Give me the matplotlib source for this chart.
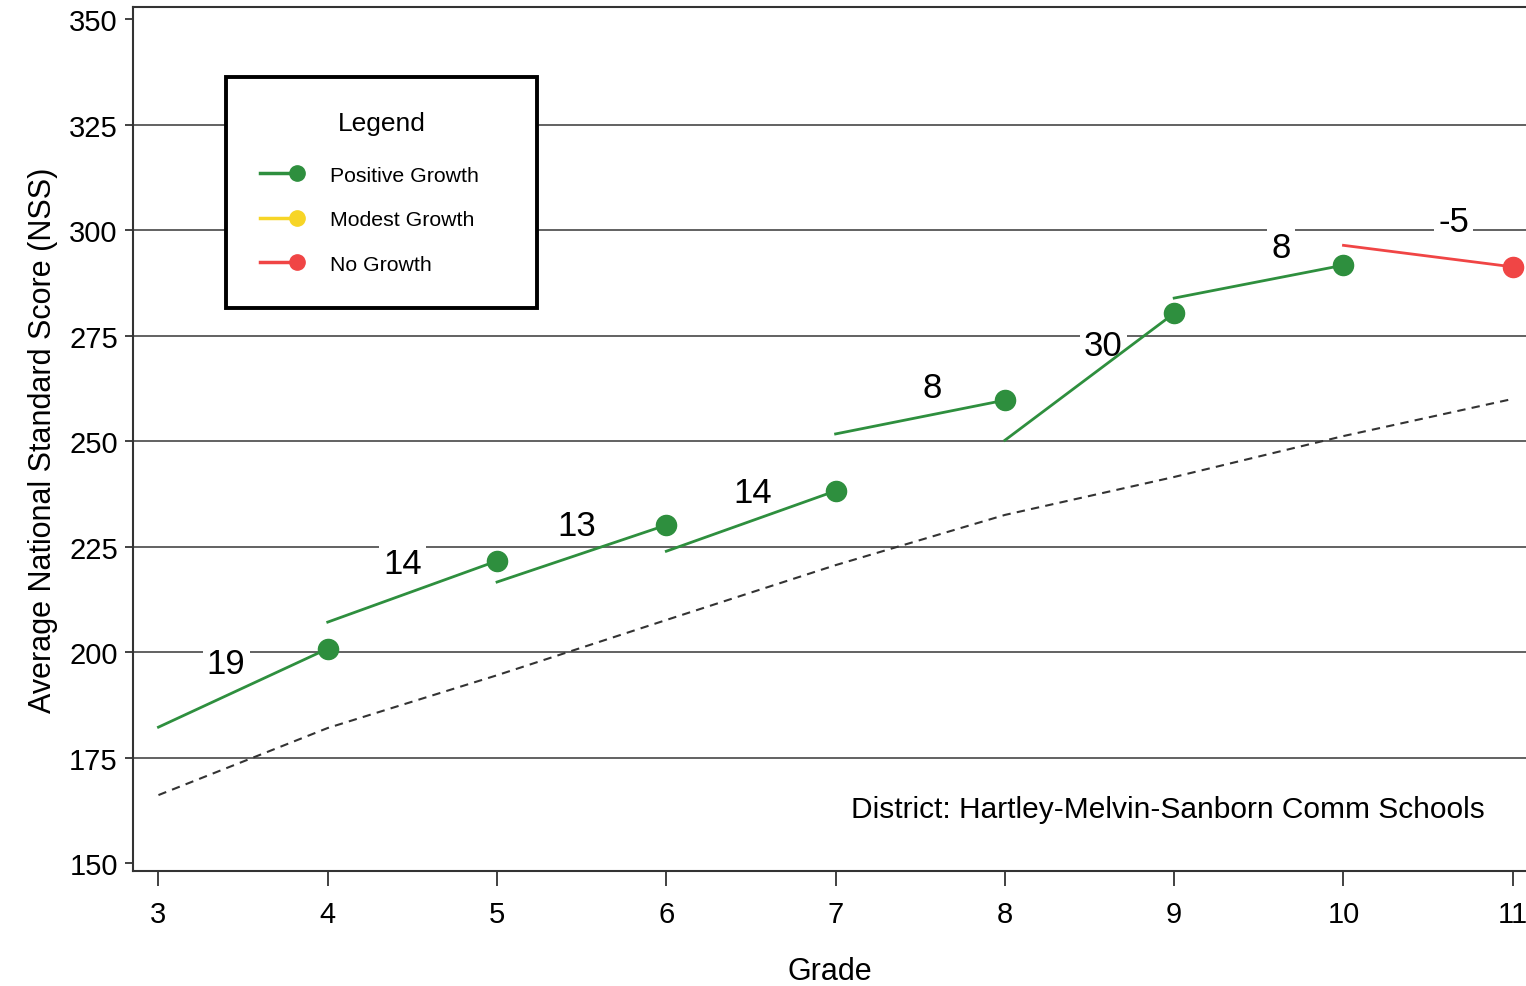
import numpy as np
import matplotlib.pyplot as plt
from matplotlib.lines import Line2D
from matplotlib.legend_handler import HandlerBase

plt.rcParams['font.family'] = ['Liberation Sans', 'DejaVu Sans']

# grade-to-grade growth segments: start grade, start score, end score
seg_grade = [3, 4, 5, 6, 7, 8, 9, 10]
seg_start = [182.2, 207.1, 216.6, 223.9, 251.7, 250.2, 283.9, 296.4]
seg_end = [200.8, 221.6, 230.1, 238.2, 259.7, 280.3, 291.7, 291.3]
growth = [19, 14, 13, 14, 8, 30, 8, -5]
label_x = [3.40, 4.44, 5.47, 6.51, 7.57, 8.58, 9.63, 10.65]
label_y = [197.4, 220.9, 230.1, 237.7, 262.8, 272.7, 296.0, 302.1]

# national norm (dashed)
norm_grade = [3, 4, 5, 6, 7, 8, 9, 10, 11]
norm_score = [166.1, 182.0, 194.5, 207.6, 220.6, 232.5, 241.5, 251.2, 260.0]

grades = [3, 4, 5, 6, 7, 8, 9, 10, 11]
yticks = [150, 175, 200, 225, 250, 275, 300, 325, 350]
legend_labels = ['Positive Growth', 'Modest Growth', 'No Growth']

GREEN = '#2e8f3e'
YELLOW = '#f7d526'
RED = '#f04545'


class EndDotHandler(HandlerBase):
    # line with the dot sitting at its right end, like the original key
    def create_artists(self, legend, orig_handle, xdescent, ydescent,
                       width, height, fontsize, trans):
        y = height / 2 - ydescent
        xe = -xdescent + width * 0.82
        c = orig_handle.get_color()
        line = Line2D([-xdescent, xe], [y, y], color=c, lw=2.5)
        dot = Line2D([xe], [y], color=c, marker='o', ms=11, lw=0)
        line.set_transform(trans)
        dot.set_transform(trans)
        return [line, dot]


fig = plt.figure(figsize=(15.26, 9.87), dpi=100)
ax = fig.add_axes([0.0872, 0.1165, 0.913, 0.875])

# gridlines
for yv in yticks[1:-1]:
    ax.axhline(yv, color='#555555', lw=1.3, zorder=1)

ax.plot(norm_grade, norm_score, color='#333333', lw=1.5, dashes=(4, 3), zorder=2)

for g, s, e, gr in zip(seg_grade, seg_start, seg_end, growth):
    c = GREEN if gr > 0 else RED
    ax.plot([g, g + 1], [s, e], color=c, lw=2.0, zorder=3)
    ax.plot(g + 1, e, 'o', color=c, ms=14.5, zorder=4)

for x, y, gr in zip(label_x, label_y, growth):
    ax.text(x, y, str(gr), fontsize=25, ha='center', va='center', zorder=2.5,
            bbox=dict(facecolor='white', edgecolor='none', pad=3))

ax.text(7.09, 162.8, 'District: Hartley-Melvin-Sanborn Comm Schools',
        fontsize=21.5, ha='left', va='center')

ax.set_xlim(2.85, 11.08)
ax.set_ylim(148.1, 352.8)
ax.set_xticks(grades)
ax.set_yticks(yticks)
ax.tick_params(axis='x', labelsize=21, length=11, width=1.3, color='#333333', pad=10)
ax.tick_params(axis='y', labelsize=21, length=6, width=1.3, color='#333333', pad=5)
ax.set_xlabel('Grade', fontsize=22, labelpad=20)
ax.set_ylabel('Average National Standard Score (NSS)', fontsize=22, labelpad=8)
ax.spines['right'].set_visible(False)
for sp in ['left', 'bottom', 'top']:
    ax.spines[sp].set_linewidth(1.5)
    ax.spines[sp].set_color('#333333')

handles = [Line2D([], [], color=c) for c in (GREEN, YELLOW, RED)]
leg = ax.legend(handles, legend_labels,
                handler_map={Line2D: EndDotHandler()},
                title='Legend', title_fontsize=19, fontsize=15.3,
                loc='upper left', bbox_to_anchor=(0.0668, 0.5, 0.2233, 0.419),
                mode='expand', handlelength=2.1, handletextpad=1.2,
                labelspacing=1.2, borderpad=1.6, borderaxespad=0,
                fancybox=False, framealpha=1, edgecolor='black')
leg.get_frame().set_linewidth(2.8)
leg._legend_box.sep = 22
leg.set_zorder(5)

fig.savefig('out.png', dpi=100)
